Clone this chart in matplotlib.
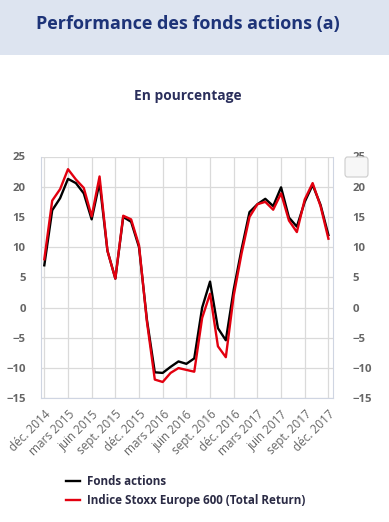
import matplotlib
matplotlib.use("Agg")
import matplotlib.pyplot as plt
from matplotlib.patches import Rectangle, FancyBboxPatch

plt.rcParams['font.family'] = ['Open Sans', 'DejaVu Sans']

# monthly values, déc. 2014 -> déc. 2017
fonds = [7.0, 16.1, 18.1, 21.3, 20.6, 18.9, 14.6, 20.7, 9.4, 4.8, 15.0, 14.2, 10.0,
         -2.0, -10.7, -10.8, -9.8, -8.9, -9.3, -8.4, 0.0, 4.3, -3.4, -5.4, 3.0,
         9.7, 15.8, 17.1, 18.0, 16.8, 19.9, 14.9, 13.4, 17.5, 20.3, 17.0, 12.0]
stoxx = [8.0, 17.7, 19.6, 22.9, 21.2, 19.8, 15.1, 21.7, 9.4, 4.8, 15.2, 14.6, 10.3,
         -2.3, -11.9, -12.3, -10.8, -10.0, -10.3, -10.6, -1.7, 2.3, -6.4, -8.2, 2.0,
         9.0, 15.0, 17.1, 17.5, 16.2, 18.9, 14.4, 12.5, 17.9, 20.6, 16.8, 11.4]
mois = list(range(len(fonds)))
etiquettes = ["déc. 2014", "mars 2015", "juin 2015", "sept. 2015", "déc. 2015",
              "mars 2016", "juin 2016", "sept. 2016", "déc. 2016", "mars 2017",
              "juin 2017", "sept. 2017", "déc. 2017"]
yticks = [-15, -10, -5, 0, 5, 10, 15, 20, 25]

W, H = 389, 522
fig = plt.figure(figsize=(W / 100, H / 100), dpi=100)
fig.patch.set_facecolor("white")

# header band
fig.patches.append(Rectangle((0, 1 - 55 / H), 1, 55 / H, transform=fig.transFigure,
                             facecolor="#dde4f0", edgecolor="none", zorder=0))
fig.text(0.483, 1 - 24 / H, "Performance des fonds actions (a)", ha="center", va="center",
         fontsize=13.0, fontweight="bold", color="#1d3378")
fig.text(0.482, 1 - 96 / H, "En pourcentage", ha="center", va="center",
         fontsize=9.9, fontweight="bold", color="#2b2f5c")

ax = fig.add_axes([41 / W, 1 - 398.3 / H, (333 - 41) / W, (398.3 - 156.5) / H])
ax.plot(mois, fonds, color="black", lw=1.7, label="Fonds actions", zorder=3)
ax.plot(mois, stoxx, color="#e3000f", lw=1.7, label="Indice Stoxx Europe 600 (Total Return)", zorder=4)

ax.set_xlim(-0.42, 36.58)
ax.set_ylim(-15, 25)
ax.set_yticks(yticks)
ax.set_xticks(mois[::3])
ax.set_xticklabels(etiquettes, rotation=45, ha="right", rotation_mode="anchor",
                   fontsize=8.5, color="#666666")
ax.grid(True, color="#dadada", lw=0.9)
ax.set_axisbelow(True)
ax.tick_params(axis="x", length=0, pad=7)
ax.tick_params(axis="y", length=0, pad=11, labelsize=8.2, labelcolor="#666666")
for t in ax.get_yticklabels():
    t.set_fontweight("bold")
for s in ["left", "right", "bottom"]:
    ax.spines[s].set_color("#cfd5e2")
ax.spines["top"].set_visible(False)

ax2 = ax.twinx()
ax2.set_ylim(-15, 25)
ax2.set_yticks(yticks)
ax2.tick_params(axis="y", length=0, pad=14, labelsize=8.2, labelcolor="#666666")
for t in ax2.get_yticklabels():
    t.set_fontweight("bold")
for s in ax2.spines.values():
    s.set_visible(False)

# export button
fig.patches.append(FancyBboxPatch((345 / W, 1 - 177 / H), 23 / W, 20 / H,
                                  boxstyle="round,pad=0,rounding_size=0.006",
                                  transform=fig.transFigure, facecolor="#f7f7f7",
                                  edgecolor="#cccccc", lw=0.8, zorder=5))

leg = fig.legend(loc="upper left", bbox_to_anchor=(66 / W, 1 - 475 / H), frameon=False,
                 fontsize=8.4, handlelength=1.2, handletextpad=0.6, labelspacing=0.5,
                 borderpad=0, borderaxespad=0)
for t in leg.get_texts():
    t.set_fontweight("bold")
    t.set_color("#2b2b45")

fig.savefig("out.png", dpi=100)
